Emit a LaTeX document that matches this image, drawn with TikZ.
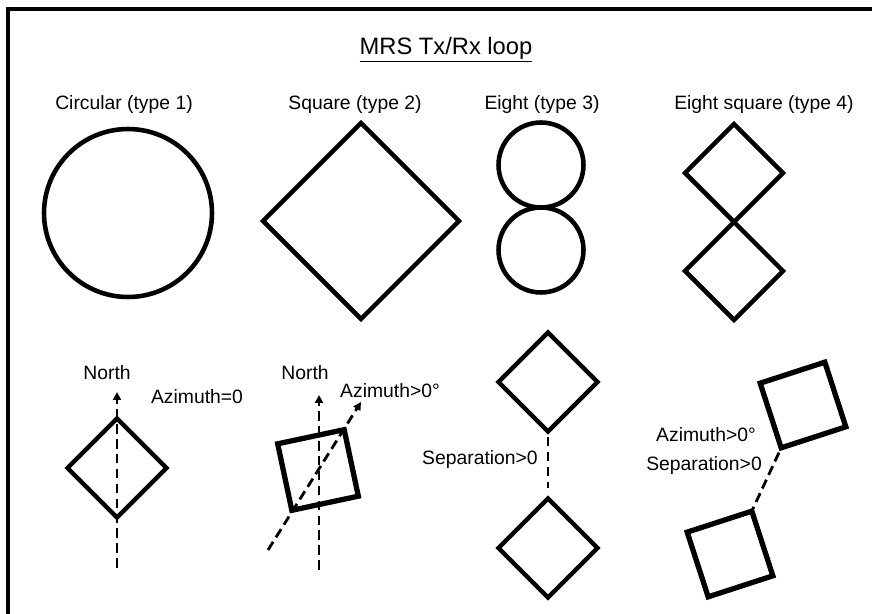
\documentclass[tikz,border=0pt]{standalone}
\usepackage{fontspec}
\setmainfont{Liberation Sans}
\usetikzlibrary{shapes.geometric,arrows.meta}

\begin{document}
\begin{tikzpicture}[x=0.02cm,y=-0.02cm]
        \tikzset{
        loop node/.style={draw,line width=2.6pt,inner sep=0,outer sep=0,line join=miter},
        loop circ/.style={loop node,circle},
        loop diam/.style={loop node,diamond,aspect=1},
        loop sq/.style={loop node,rectangle,line width=3pt,minimum size=1.36cm},
        axis edge/.style={dash pattern=on 5.5pt off 3pt,line width=1.6pt},
        axis arrow/.style={axis edge,-{Triangle[length=4.5pt,width=4.5pt]}},
        lbl/.style={font=\fontsize{11}{13}\selectfont,inner sep=0}
        }
        \useasboundingbox (0,0) rectangle (872,614);
        \draw[line width=2.3pt] (8,614) -- (8,9) -- (872,9);

        \node[lbl,font=\fontsize{13.5}{16}\selectfont] (title) at (446,50) {\underline{MRS Tx/Rx loop}};

        % the four loop types
        \node[lbl] (t1) at (124,105) {Circular (type 1)};
        \node[lbl] (t2) at (355,105) {Square (type 2)};
        \node[lbl] (t3) at (542,105) {Eight (type 3)};
        \node[lbl] (t4) at (764,105) {Eight square (type 4)};

        \node[loop circ,minimum size=3.36cm] (c1) at (128,213) {};
        \node[loop diam,minimum size=3.92cm] (s2) at (361,221) {};
        \node[loop circ,minimum size=1.7cm] (e3a) at (541,165) {};
        \node[loop circ,minimum size=1.7cm] (e3b) at (541,250) {};
        \node[loop diam,minimum size=1.96cm] (e4a) at (734,173) {};
        \node[loop diam,minimum size=1.96cm] (e4b) at (734,271) {};

        % orientation and separation
        \node[loop diam,minimum size=1.98cm] (d1) at (117,468) {};
        \coordinate (n1b) at (117,568);
        \coordinate (n1t) at (117,392);
        \node[lbl] (north1) at (107,373) {North};
        \node[lbl] (az1) at (197,397) {Azimuth=0};
        \draw[axis arrow] (n1b) -- (n1t);

        \node[loop sq,rotate=12] (q2) at (318,470) {};
        \coordinate (n2b) at (319,570);
        \coordinate (n2t) at (319,395);
        \coordinate (a2b) at (268,550);
        \coordinate (a2t) at (361,402);
        \node[lbl] (north2) at (305,373) {North};
        \node[lbl] (az2) at (390,391) {Azimuth>0°};
        \draw[axis arrow] (n2b) -- (n2t);
        \draw[axis arrow] (a2b) -- (a2t);

        \node[loop diam,minimum size=1.98cm] (p3a) at (548,382) {};
        \node[loop diam,minimum size=1.98cm] (p3b) at (548,548) {};
        \node[lbl] (sep3) at (480,460) {Separation>0};
        \draw[axis edge,shorten <=3pt,shorten >=6pt] (p3a) -- (p3b);

        \node[loop sq,rotate=18] (q4a) at (803,405) {};
        \node[loop sq,rotate=18] (q4b) at (730,554) {};
        \node[lbl] (az4) at (706,435) {Azimuth>0°};
        \node[lbl] (sep4) at (704,466) {Separation>0};
        \draw[axis edge,shorten <=3pt] (q4a.south west) -- (q4b.north east);
\end{tikzpicture}
\end{document}
